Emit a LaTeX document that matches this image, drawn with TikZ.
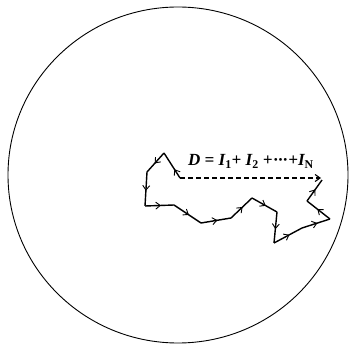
\documentclass[tikz,border=0pt]{standalone}
\usepackage{fontspec}
\setmainfont{Liberation Serif}
\usetikzlibrary{decorations.markings,arrows.meta}
\newcommand{\sbs}[1]{\textsubscript{\upshape #1}}
\tikzset{
  walk/.style={line width=1.4pt, line join=miter,
    postaction={decorate},
    decoration={markings, mark=at position #1 with {\arrow[line width=0.9pt]{Straight Barb[length=4.5pt,width=7pt]}}}},
  walk/.default=0.55,
  bound/.style={line width=0.9pt},
  resultant/.style={dashed, line width=1.1pt, dash pattern=on 5pt off 3pt, -{Straight Barb[length=5pt,width=7pt]}},
  lbl/.style={font=\fontsize{17}{19}\selectfont\bfseries\itshape, inner sep=0pt}
}
\begin{document}
\begin{tikzpicture}[x=1pt,y=-1pt]
\useasboundingbox (0,0) rectangle (350,344);
\draw[bound] (178,175) ellipse [x radius=170, y radius=168];
\coordinate (p0) at (180,178);
\coordinate (p1) at (164,153);
\coordinate (p2) at (147,172);
\coordinate (p3) at (145,206);
\coordinate (p4) at (174,205);
\coordinate (p5) at (201,223);
\coordinate (p6) at (231,218);
\coordinate (p7) at (252,198);
\coordinate (p8) at (277,212);
\coordinate (p9) at (274,243);
\coordinate (p10) at (302,228);
\coordinate (p11) at (330,219);
\coordinate (p12) at (307,201);
\coordinate (p13) at (322,180);
\coordinate (e) at (321,178);
\draw[walk=0.35] (p0) -- (p1);
\draw[walk] (p1) -- (p2);
\draw[walk] (p2) -- (p3);
\draw[walk] (p3) -- (p4);
\draw[walk] (p4) -- (p5);
\draw[walk] (p5) -- (p6);
\draw[walk] (p6) -- (p7);
\draw[walk] (p7) -- (p8);
\draw[walk] (p8) -- (p9);
\draw[walk] (p9) -- (p10);
\draw[walk] (p10) -- (p11);
\draw[walk] (p11) -- (p12);
\draw[walk] (p12) -- (p13);
\draw[resultant] (p0) -- (e);
\node[lbl, anchor=base west] (t) at (188,166) {D = I\sbs{1}+ I\sbs{2} +\kern1pt·\kern0.5pt·\kern0.5pt·\kern1pt+I\sbs{N}};
\end{tikzpicture}
\end{document}
